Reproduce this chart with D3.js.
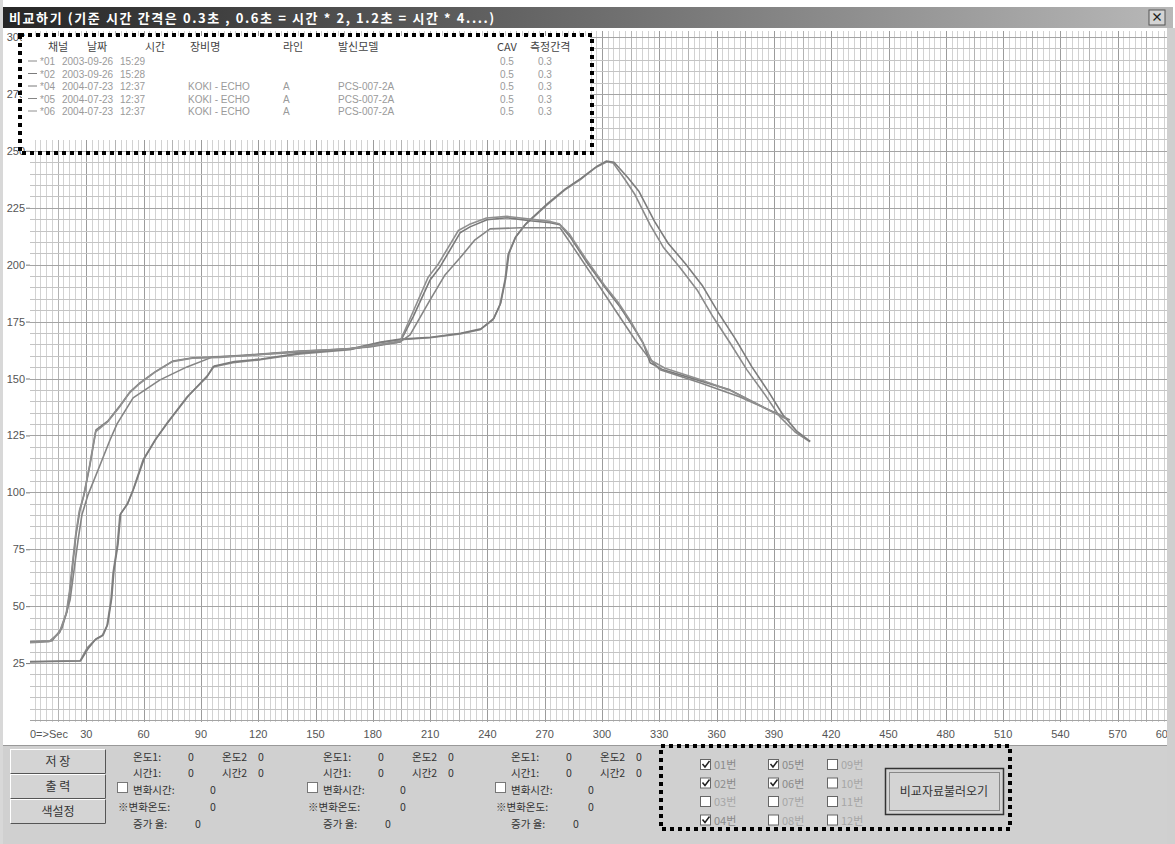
<!DOCTYPE html>
<html><head><meta charset="utf-8">
<script src="https://cdn.jsdelivr.net/npm/d3@7"></script>
<style>
body{margin:0;background:#fff;}
svg{display:block;font-family:"Noto Sans CJK KR","Noto Sans",sans-serif;}
.lat{font-family:"Liberation Sans","DejaVu Sans",sans-serif;}
</style>
</head><body>
<svg id="c" width="1175" height="844"></svg>
<script>
// ---------------- data ----------------
const titleText = "비교하기 (기준 시간 간격은 0.3초 , 0.6초 = 시간 * 2, 1.2초 = 시간 * 4....)";
const xTicks = [30,60,90,120,150,180,210,240,270,300,330,360,390,420,450,480,510,540,570,600];
const xZeroLabel = "0=>Sec";
const yTicks = [25,50,75,100,125,150,175,200,225,250,275,300];

const legendHeaders = ["채널","날짜","시간","장비명","라인","발신모델","CAV","측정간격"];
const legendRows = [
  ["*01","2003-09-26","15:29","","","","0.5","0.3"],
  ["*02","2003-09-26","15:28","","","","0.5","0.3"],
  ["*04","2004-07-23","12:37","KOKI - ECHO","A","PCS-007-2A","0.5","0.3"],
  ["*05","2004-07-23","12:37","KOKI - ECHO","A","PCS-007-2A","0.5","0.3"],
  ["*06","2004-07-23","12:37","KOKI - ECHO","A","PCS-007-2A","0.5","0.3"]
];

// [seconds, temperature]
const series01 = [[0.5,25.5],[26.7,25.9],[30.4,31.6],[34.6,35.2],[38.2,36.9],[40.8,41.3],[42.9,52.7],[44.0,64.6],[46.1,76.0],[47.6,90.1],[51.3,94.5],[54.5,101.1],[59.7,114.2],[66.0,123.0],[72.3,130.5],[82.7,141.9],[93.2,150.7],[96.3,155.1],[106.8,156.9],[121.0,158.2],[141.9,160.8],[168.1,162.6],[183.8,165.7],[194.3,167.0],[210.0,167.9],[225.7,169.6],[236.1,171.4],[242.9,175.8],[246.6,182.4],[249.2,193.3],[250.8,204.3],[254.5,211.8],[259.7,217.5],[271.2,226.3],[280.6,232.9],[288.5,237.3],[296.4,242.5],[302.6,245.2],[305.8,244.7],[312.1,237.3],[317.3,230.7],[325.2,217.5],[332.0,207.8],[340.9,198.6],[349.8,188.9],[358.1,177.1],[367.0,165.7],[375.9,153.8],[385.4,142.8],[393.2,133.1],[401.1,126.5],[408.9,122.2]];
const series02 = [[0.5,25.7],[27,26],[30.8,31.2],[35,35.6],[38.8,37.3],[41.2,42],[43.3,53.5],[44.5,65.8],[46.6,77.2],[48,90.6],[51.8,95.3],[55,102],[60.3,114.8],[66.6,123.6],[73,131],[83.4,142.3],[93.6,151.4],[97,155.5],[107.5,157.4],[121.5,158.6],[142.4,161.2],[168.5,163],[184.2,166],[194.6,167.3],[210.4,168.1],[226,169.9],[236.6,171.8],[243.4,176.4],[247,183.2],[249.6,194],[251.3,205],[255,212.4],[260.2,218],[271.6,226.9],[281,233.4],[289,237.9],[297,243],[302.2,245.5],[306.3,245],[313.6,238.2],[319.4,232.1],[327.5,219],[334.6,209.4],[343.8,200.3],[352.7,190.6],[361,178.8],[369.8,167.4],[378.4,155.2],[387.4,143.9],[394.6,134.2],[401.8,127],[409,122.4]];
const series04 = [[0.5,34.3],[11.0,34.7],[16.2,38.7],[19.9,47.5],[21.5,57.1],[23.0,69.0],[24.6,81.3],[26.7,92.3],[28.8,98.9],[31.9,112.0],[35.1,127.4],[41.4,131.4],[47.6,138.0],[52.9,144.1],[58.1,148.1],[66.0,152.9],[75.4,157.7],[85.9,159.1],[100.0,159.5],[115.7,160.4],[141.9,162.1],[168.1,163.0],[183.8,164.8],[194.3,166.1],[201.1,177.1],[210.0,193.3],[215.2,199.0],[225.7,214.0],[230.9,216.6],[239.8,219.7],[250.3,220.6],[262.3,219.3],[272.8,218.4],[278.0,217.5],[283.3,212.2],[292.2,200.8],[302.6,188.9],[309.4,181.5],[316.3,172.7],[321.5,165.7],[325.2,156.9],[332.0,153.8],[349.8,149.4],[367.0,145.0],[384.3,137.5],[394.8,133.1]];
const series05 = [[0.5,34.3],[12.0,34.7],[17.3,40.4],[21.5,52.7],[23.6,65.9],[25.7,79.1],[27.7,90.1],[30.9,98.9],[37.2,112.0],[42.4,123.0],[46.1,130.1],[54.5,141.5],[68.6,149.4],[82.7,155.1],[96.3,159.5],[110.5,159.9],[126.2,160.8],[152.4,162.1],[178.5,163.9],[194.3,166.1],[199.5,169.2],[210.0,184.5],[217.8,195.5],[225.7,203.0],[233.5,210.9],[241.4,215.7],[257.1,216.2],[278.0,216.2],[285.9,206.5],[296.4,193.3],[306.8,180.2],[317.3,167.0],[324.1,159.5],[330.4,153.8],[351.3,148.1],[372.3,141.9],[393.2,134.0],[398.4,131.8]];
const series06 = [[0.5,34.0],[10.5,34.4],[15.8,38.2],[19.5,47],[21.2,56.5],[22.7,68.3],[24.3,80.6],[26.3,91.7],[28.5,98.2],[31.6,111.2],[34.8,126.6],[41,130.8],[47.3,137.4],[52.5,143.6],[57.8,147.7],[65.6,152.6],[75,157.4],[85.5,158.9],[100,159.3],[115.7,160.2],[141.9,162],[168.1,163.1],[183.8,165],[194.3,166.4],[200.5,178.2],[209,194.5],[214.3,200.3],[224.8,215],[230.4,217.6],[239.5,220.5],[250.3,221.2],[262.3,220],[272.8,219],[277.5,218],[283,213.4],[291.5,202.6],[301.3,191],[308.5,183.4],[315.4,174.6],[322.2,164.4],[326,157.8],[333,154.5],[350.5,149.8],[367.5,144.6],[384.8,137.2],[396,132.4]];
const seriesList = [series01, series02, series04, series05, series06];
const seriesColors = ["#8a8a8a","#7c7c7c","#7a7a7a","#858585","#909090"];

const buttonLabels = ["저  장","출  력","색설정"];
const infoLabels1 = ["온도1:","시간1:"];
const infoLabels2 = ["온도2","시간2"];
const infoLabelsLow = ["변화시간:","※변화온도:","증가 율:"];
const infoValue = "0";
const checkLabels = [["01번","02번","03번","04번"],["05번","06번","07번","08번"],["09번","10번","11번","12번"]];
const checkState = [[true,true,false,true],[true,true,false,false],[false,false,false,false]];
const loadButtonLabel = "비교자료불러오기";

// ---------------- drawing ----------------
const svg = d3.select("#c");
const W = 1175, H = 844;
const x = d3.scaleLinear().domain([0,600]).range([29,1175]);
const y = d3.scaleLinear().domain([0,300]).range([720,37]);
const plotL = 30, plotR = 1167, plotT = 31, plotB = 722;

svg.append("rect").attr("width",W).attr("height",H).attr("fill","#ffffff");
svg.append("rect").attr("x",0).attr("y",0).attr("width",3).attr("height",H).attr("fill","#d8d8d8");

// title bar
const grad = svg.append("defs").append("linearGradient").attr("id","tb").attr("x1","0").attr("x2","1");
grad.append("stop").attr("offset","0").attr("stop-color","#262626");
grad.append("stop").attr("offset","0.5").attr("stop-color","#6c6c6c");
grad.append("stop").attr("offset","1").attr("stop-color","#b8b8b8");
svg.append("rect").attr("x",3).attr("y",7).attr("width",1170).attr("height",21).attr("fill","url(#tb)");
svg.append("text").attr("x",9).attr("y",22.5).attr("fill","#ffffff").attr("font-size",13)
  .attr("font-weight","bold").attr("letter-spacing",1.6).text(titleText);
svg.append("rect").attr("x",1149).attr("y",10).attr("width",16).attr("height",15).attr("fill","#d4d4d4").attr("stroke","#555");
svg.append("text").attr("x",1157).attr("y",22).attr("text-anchor","middle").attr("font-size",12).attr("font-weight","bold").attr("fill","#222").text("×");

// plot area
const plot = svg.append("g");
plot.append("defs").append("clipPath").attr("id","pc").append("rect")
  .attr("x",plotL).attr("y",plotT).attr("width",plotR-plotL).attr("height",plotB-plotT);
const grid = plot.append("g").attr("clip-path","url(#pc)");
grid.append("rect").attr("x",plotL).attr("y",plotT).attr("width",plotR-plotL).attr("height",plotB-plotT).attr("fill","#fff");
const vMinor = d3.range(0,601,3);
grid.selectAll("line.v").data(vMinor).join("line")
  .attr("x1",d=>Math.round(x(d))+0.5).attr("x2",d=>Math.round(x(d))+0.5)
  .attr("y1",plotT).attr("y2",plotB)
  .attr("stroke",d=> d%30===0 ? "#9c9c9c" : (d%15===0 ? "#b4b4b4" : "#d2d2d2"))
  .attr("stroke-width",1);
const hMinor = d3.range(0,301,5);
grid.selectAll("line.h").data(hMinor).join("line")
  .attr("y1",d=>Math.round(y(d))+0.5).attr("y2",d=>Math.round(y(d))+0.5)
  .attr("x1",plotL).attr("x2",plotR)
  .attr("stroke",d=> d%25===0 ? "#a4a4a4" : "#c4c4c4")
  .attr("stroke-width",1);

// y labels
svg.selectAll("text.yl").data(yTicks).join("text").attr("class","lat")
  .attr("x",25).attr("y",d=>y(d)+4).attr("text-anchor","end")
  .attr("font-size",11).attr("fill","#555").text(d=>d);
svg.selectAll("line.yt").data(yTicks).join("line")
  .attr("x1",26).attr("x2",30).attr("y1",d=>y(d)+0.5).attr("y2",d=>y(d)+0.5).attr("stroke","#777");

// x labels
svg.append("rect").attr("x",3).attr("y",plotB).attr("width",1164).attr("height",23).attr("fill","#fff");
svg.append("text").attr("class","lat").attr("x",30).attr("y",738).attr("font-size",11).attr("fill","#555").text(xZeroLabel);
svg.selectAll("text.xl").data(xTicks).join("text").attr("class","lat")
  .attr("x",d=>x(d)).attr("y",738).attr("text-anchor",d=>d===600?"end":"middle")
  .attr("dx",d=>d===600?-1:0)
  .attr("font-size",11).attr("fill","#555").text(d=>d);

// series
const line = d3.line().x(d=>x(d[0])).y(d=>y(d[1]));
const lg = svg.append("g").attr("clip-path","url(#pc)");
lg.selectAll("path").data(seriesList).join("path")
  .attr("d",line).attr("fill","none")
  .attr("stroke",(d,i)=>seriesColors[i]).attr("stroke-width",1.6)
  .attr("stroke-linejoin","round");

// right frame (over plot edge)
svg.append("rect").attr("x",1167).attr("y",28).attr("width",8).attr("height",H-28).attr("fill","#cfcfcf");

// legend box
svg.append("rect").attr("x",22).attr("y",36).attr("width",568).attr("height",104).attr("fill","#fff");
const colX = [48,87,145,190,283,338,497,530];
const rowY0 = 51, rowDY = 12.5;
svg.selectAll("text.lh").data(legendHeaders).join("text")
  .attr("x",(d,i)=>colX[i]).attr("y",rowY0).attr("font-size",11).attr("fill","#444").text(d=>d);
const rowColX = [40,62,120,188,283,338,500,538];
legendRows.forEach((r,ri)=>{
  const yy = rowY0 + 14 + ri*rowDY;
  svg.append("line").attr("x1",28).attr("x2",37).attr("y1",yy-4).attr("y2",yy-4).attr("stroke",seriesColors[ri]).attr("stroke-width",1);
  r.forEach((c,ci)=>{
    if(!c) return;
    svg.append("text").attr("class","lat").attr("x",rowColX[ci]).attr("y",yy).attr("font-size",10)
      .attr("fill","#9a9a9a").text(c);
  });
});

// bottom panel
svg.append("rect").attr("x",3).attr("y",745).attr("width",1164).attr("height",99).attr("fill","#d0d0d0");
svg.append("line").attr("x1",3).attr("x2",1167).attr("y1",745.5).attr("y2",745.5).attr("stroke","#999");
buttonLabels.forEach((b,i)=>{
  const by = 749 + i*25;
  svg.append("rect").attr("x",10.5).attr("y",by+0.5).attr("width",95).attr("height",24).attr("fill","#d4d4d4").attr("stroke","#fff");
  svg.append("path").attr("d",`M10.5,${by+24.5} H105.5 V${by+0.5}`).attr("fill","none").attr("stroke","#555");
  svg.append("text").attr("x",58).attr("y",by+17).attr("text-anchor","middle").attr("font-size",12).attr("fill","#333").text(b);
});
[0,190,378].forEach(off=>{
  const gx = 133 + off;
  infoLabels1.forEach((t,i)=>{
    const yy = 761 + i*16;
    svg.append("text").attr("x",gx).attr("y",yy).attr("font-size",10.5).attr("fill","#333").text(t);
    svg.append("text").attr("x",gx+55).attr("y",yy).attr("font-size",10.5).attr("fill","#333").text(infoValue);
    svg.append("text").attr("x",gx+89).attr("y",yy).attr("font-size",10.5).attr("fill","#333").text(infoLabels2[i]);
    svg.append("text").attr("x",gx+125).attr("y",yy).attr("font-size",10.5).attr("fill","#333").text(infoValue);
  });
  svg.append("rect").attr("x",gx-15.5).attr("y",782.5).attr("width",10).attr("height",10).attr("fill","#fff").attr("stroke","#777");
  infoLabelsLow.forEach((t,i)=>{
    const yy = 794 + i*17;
    const lx = i===1 ? gx-15 : gx;
    svg.append("text").attr("x",lx).attr("y",yy).attr("font-size",10.5).attr("fill","#333").text(t);
    svg.append("text").attr("x", i===2 ? gx+62 : gx+77).attr("y",yy).attr("font-size",10.5).attr("fill","#333").text(infoValue);
  });
});
const cbX = [700,768,827];
checkLabels.forEach((col,ci)=>{
  col.forEach((lab,ri)=>{
    const cy = 759 + ri*18.5;
    svg.append("rect").attr("x",cbX[ci]+0.5).attr("y",cy+0.5).attr("width",10).attr("height",10).attr("fill","#fff").attr("stroke","#666");
    if(checkState[ci][ri]){
      svg.append("path").attr("d",`M${cbX[ci]+2.5},${cy+5} l2.5,3 l4.5,-6`).attr("fill","none").attr("stroke","#222").attr("stroke-width",1.5);
    }
    svg.append("text").attr("x",cbX[ci]+14).attr("y",cy+10).attr("font-size",11)
      .attr("fill",checkState[ci][ri] ? "#8a8a8a" : "#a6a6a6").text(lab);
  });
});
svg.append("rect").attr("x",885.5).attr("y",768.5).attr("width",118).attr("height",46).attr("fill","#d4d4d4").attr("stroke","#333").attr("stroke-width",1.5);
svg.append("rect").attr("x",889.5).attr("y",772.5).attr("width",110).attr("height",38).attr("fill","none").attr("stroke","#888");
svg.append("text").attr("x",944).attr("y",796).attr("text-anchor","middle").attr("font-size",12).attr("fill","#333").text(loadButtonLabel);

// dotted annotation boxes
svg.append("rect").attr("x",20).attr("y",35).attr("width",572).attr("height",118)
  .attr("fill","none").attr("stroke","#000").attr("stroke-width",4).attr("stroke-dasharray","4,4");
svg.append("rect").attr("x",661).attr("y",746).attr("width",349).attr("height",83)
  .attr("fill","none").attr("stroke","#000").attr("stroke-width",4).attr("stroke-dasharray","4,4");
</script>
</body></html>
